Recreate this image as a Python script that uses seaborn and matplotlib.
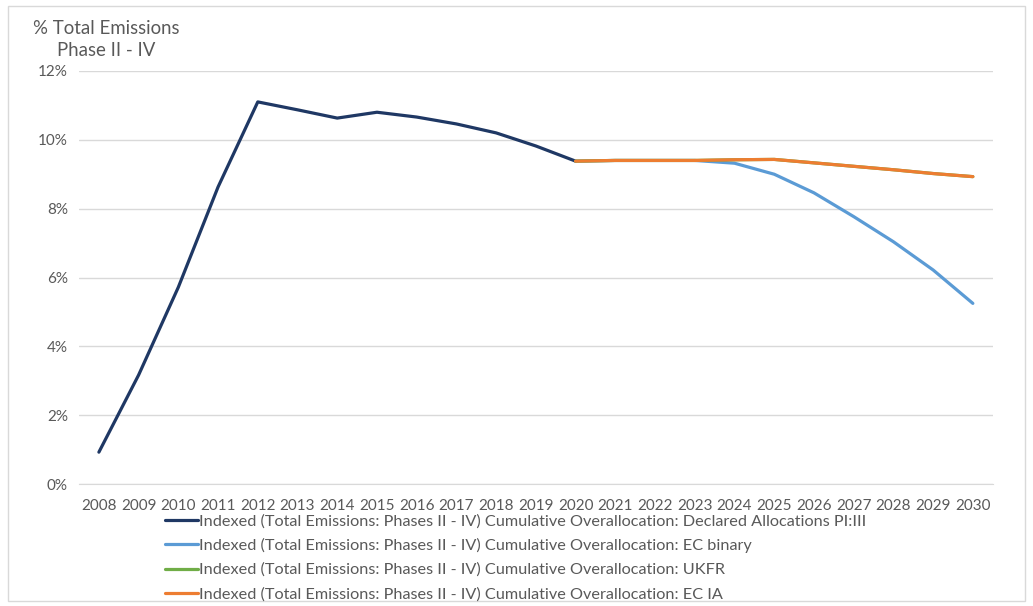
import pandas as pd
import matplotlib.pyplot as plt
import seaborn as sns
from matplotlib.patches import Rectangle
from matplotlib.ticker import PercentFormatter

# Values (% of total emissions)
years_hist = list(range(2008, 2021))
declared = [0.93, 3.17, 5.72, 8.63, 11.10, 10.87, 10.63, 10.80, 10.66, 10.46, 10.20, 9.82, 9.38]

years_proj = list(range(2020, 2031))
ec_binary = [9.38, 9.40, 9.40, 9.40, 9.32, 9.00, 8.46, 7.77, 7.04, 6.22, 5.25]
ukfr = [9.38, 9.40, 9.40, 9.40, 9.42, 9.43, 9.33, 9.23, 9.13, 9.02, 8.93]
ec_ia = [9.38, 9.40, 9.40, 9.40, 9.42, 9.43, 9.33, 9.23, 9.13, 9.02, 8.93]

prefix = 'Indexed (Total Emissions: Phases II - IV) Cumulative Overallocation: '
names = [prefix + 'Declared Allocations PI:III', prefix + 'EC binary',
         prefix + 'UKFR', prefix + 'EC IA']
colors = ['#1F3864', '#5B9BD5', '#70AD47', '#ED7D31']

frames = [
    pd.DataFrame({'year': years_hist, 'value': declared, 'series': names[0]}),
    pd.DataFrame({'year': years_proj, 'value': ec_binary, 'series': names[1]}),
    pd.DataFrame({'year': years_proj, 'value': ukfr, 'series': names[2]}),
    pd.DataFrame({'year': years_proj, 'value': ec_ia, 'series': names[3]}),
]
df = pd.concat(frames, ignore_index=True)

sns.set_style('white')
plt.rcParams['font.family'] = ['Lato', 'DejaVu Sans']

fig = plt.figure(figsize=(10.33, 6.06), dpi=100)
ax = fig.add_axes([0.0765, 0.201, 0.8845, 0.682])

sns.lineplot(data=df, x='year', y='value', hue='series', hue_order=names,
             palette=colors, linewidth=2.3, ax=ax, legend=False,
             solid_capstyle='round')

ax.set_xlim(2007.5, 2030.5)
ax.set_ylim(0, 12)
ax.set_yticks(range(0, 13, 2))
ax.yaxis.set_major_formatter(PercentFormatter(decimals=0))
ax.set_xticks(range(2008, 2031))
ax.grid(axis='y', color='#D9D9D9', linewidth=1)
ax.set_axisbelow(True)
for s in ['top', 'right', 'left']:
    ax.spines[s].set_visible(False)
ax.spines['bottom'].set_color('#D9D9D9')
ax.tick_params(axis='both', length=0, labelsize=11, colors='#595959')
ax.tick_params(axis='x', pad=11)
ax.tick_params(axis='y', pad=8)
ax.set_xlabel('')
ax.set_ylabel('')

fig.text(0.032, 0.953, '% Total Emissions', fontsize=13.4, color='#595959', va='center')
fig.text(0.055, 0.917, 'Phase II - IV', fontsize=13.4, color='#595959', va='center')

handles = [plt.Line2D([], [], color=c, linewidth=2.3) for c in colors]
fig.legend(handles, names, loc='upper left', bbox_to_anchor=(0.16, 0.152),
           frameon=False, fontsize=11.7, labelcolor='#595959',
           handlelength=2.0, handletextpad=0.05, labelspacing=0.6,
           borderaxespad=0, borderpad=0)

fig.patches.append(Rectangle((0.008, 0.008), 0.984, 0.982, transform=fig.transFigure,
                             fill=False, edgecolor='#D9D9D9', linewidth=1))

fig.savefig('out.png', dpi=100)
